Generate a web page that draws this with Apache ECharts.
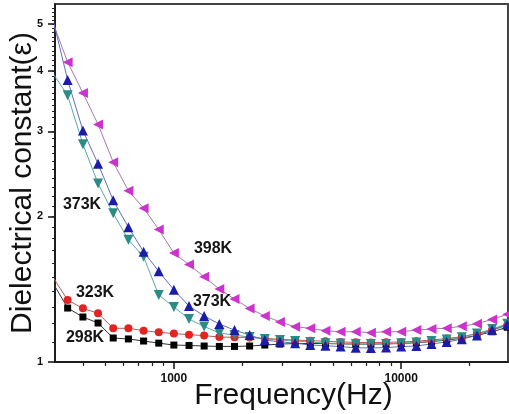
<!DOCTYPE html>
<html>
<head>
<meta charset="utf-8">
<script src="https://cdn.jsdelivr.net/npm/echarts@6/dist/echarts.min.js"></script>
<style>
html, body { margin: 0; padding: 0; background: #fff; }
#chart { width: 509px; height: 414px; }
</style>
</head>
<body>
<div id="chart"></div>
<script>
// frequencies (Hz), 15 points per decade
var freqList = [293, 341, 398, 464, 541, 631, 736, 858, 1000, 1166, 1359, 1585, 1848, 2154, 2512, 2929,
  3415, 3981, 4642, 5412, 6310, 7356, 8577, 10000, 11659, 13594, 15849, 18478, 21544, 25119, 29286];

// dielectric constant per temperature
var k298 = [1.46, 1.293, 1.239, 1.204, 1.121, 1.116, 1.105, 1.094, 1.084, 1.082, 1.079, 1.077, 1.077, 1.079, 1.084, 1.089,
  1.092, 1.092, 1.092, 1.090, 1.089, 1.089, 1.090, 1.092, 1.096, 1.102, 1.110, 1.120, 1.135, 1.155, 1.18];
var k323 = [1.50, 1.343, 1.291, 1.261, 1.174, 1.174, 1.161, 1.152, 1.145, 1.139, 1.134, 1.126, 1.125, 1.124, 1.119, 1.114,
  1.110, 1.107, 1.104, 1.100, 1.098, 1.097, 1.098, 1.100, 1.104, 1.110, 1.118, 1.128, 1.145, 1.165, 1.19];
var k373a = [5.14, 3.83, 3.01, 2.57, 2.16, 1.90, 1.69, 1.54, 1.41, 1.305, 1.245, 1.198, 1.164, 1.137, 1.110, 1.101,
  1.094, 1.084, 1.081, 1.076, 1.070, 1.069, 1.071, 1.076, 1.079, 1.090, 1.100, 1.115, 1.135, 1.165, 1.195];
var k373b = [3.96, 3.56, 2.82, 2.34, 2.03, 1.79, 1.65, 1.375, 1.30, 1.227, 1.184, 1.148, 1.137, 1.126, 1.116, 1.110,
  1.105, 1.100, 1.094, 1.092, 1.089, 1.089, 1.090, 1.094, 1.097, 1.105, 1.113, 1.125, 1.145, 1.170, 1.20];
var k398 = [5.05, 4.17, 3.60, 3.10, 2.59, 2.26, 2.08, 1.88, 1.68, 1.59, 1.50, 1.415, 1.35, 1.29, 1.245, 1.21,
  1.183, 1.174, 1.161, 1.155, 1.155, 1.150, 1.155, 1.155, 1.164, 1.170, 1.175, 1.185, 1.20, 1.225, 1.255];

// axis ticks / labels
var xMajorTicks = [1000, 10000];
var yMajorTicks = [1, 2, 3, 4, 5];

function pairs(ys) {
  return freqList.map(function (f, i) { return [f, ys[i]]; });
}

var font = "'Liberation Sans', Arial, sans-serif";
var chart = echarts.init(document.getElementById("chart"));

function makeSeries(name, ys, symbol, rotate, size, color, lineColor) {
  return {
    name: name,
    type: "line",
    data: pairs(ys),
    symbol: symbol,
    symbolRotate: rotate,
    symbolSize: size,
    showAllSymbol: true,
    clip: true,
    itemStyle: { color: color },
    lineStyle: { color: lineColor, width: 1 },
    emphasis: { disabled: true }
  };
}

// temperature annotations
function label(text, x, y) {
  return {
    type: "text", x: x, y: y, z: 100,
    style: { text: text, font: "bold 16px " + font, fill: "#151515", textAlign: "center", textVerticalAlign: "middle" }
  };
}

chart.setOption({
  animation: false,
  backgroundColor: "#fff",
  grid: {
    left: 55, right: 1, top: 4, bottom: 52, outerBoundsMode: "none",
    show: true, borderColor: "#444", borderWidth: 2
  },
  xAxis: {
    type: "log", min: 300, max: 29500,
    name: "Frequency(Hz)", nameLocation: "middle", nameGap: 19, nameMoveOverlap: false,
    nameTextStyle: { fontFamily: font, fontSize: 30, color: "#111", padding: [0, 0, 0, 24] },
    axisLine: { show: true, lineStyle: { color: "#111", width: 1.5 } },
    axisTick: { show: true, customValues: xMajorTicks, length: 7, lineStyle: { color: "#111", width: 1.5 } },
    minorTick: { show: true, splitNumber: 9, length: 4, lineStyle: { color: "#222", width: 1.2 } },
    axisLabel: {
      customValues: xMajorTicks, margin: 11, fontFamily: font, fontSize: 12, fontWeight: "bold", color: "#111",
      formatter: function (v) { return String(v); }
    },
    splitLine: { show: false }
  },
  yAxis: {
    type: "log", min: 1, max: 5.5,
    name: "Dielectrical constant(ε)", nameLocation: "middle", nameGap: 17, nameMoveOverlap: false,
    nameTextStyle: { fontFamily: font, fontSize: 30, color: "#111" },
    axisLine: { show: true, lineStyle: { color: "#111", width: 1.5 } },
    axisTick: { show: true, customValues: yMajorTicks, length: 7, lineStyle: { color: "#111", width: 1.5 } },
    minorTick: { show: true, splitNumber: 90, length: 3, lineStyle: { color: "#222", width: 1 } },
    axisLabel: {
      customValues: yMajorTicks, margin: 12, fontFamily: font, fontSize: 11, fontWeight: "bold", color: "#111",
      formatter: function (v) { return String(v); }
    },
    splitLine: { show: false }
  },
  series: [
    makeSeries("298K", k298, "rect", 0, 7, "#000", "#333"),
    makeSeries("323K", k323, "circle", 0, 8, "#e52222", "#b85a5a"),
    makeSeries("398K", k398, "triangle", 90, 10, "#cc33cc", "#a57aa5"),
    makeSeries("373K", k373b, "triangle", 180, 10, "#2a8c84", "#5aa8a8"),
    makeSeries("373K", k373a, "triangle", 0, 10, "#1c1ca8", "#6070b8")
  ],
  graphic: [
    label("373K", 82, 205),
    label("398K", 213, 249),
    label("373K", 212, 302),
    label("323K", 95, 293),
    label("298K", 85, 338)
  ]
});
</script>
</body>
</html>
